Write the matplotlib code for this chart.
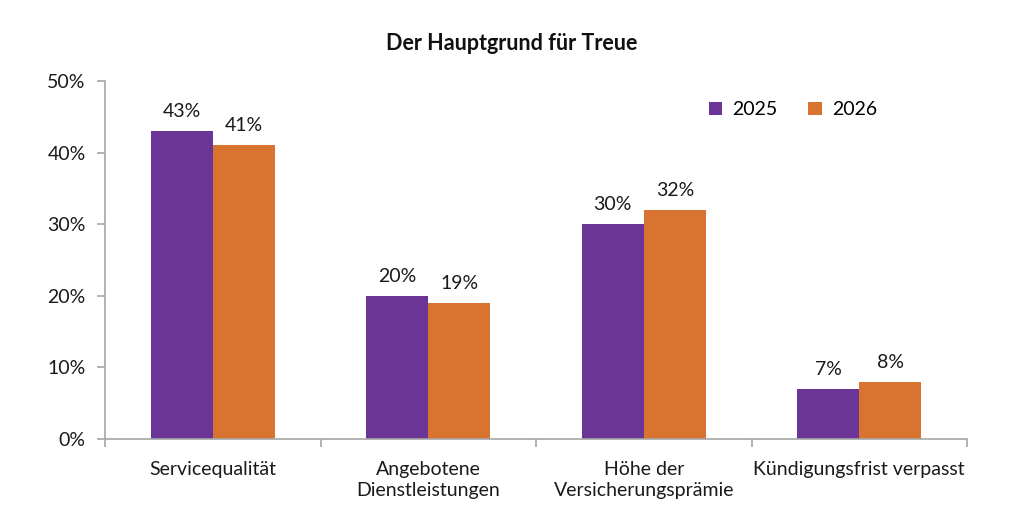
import matplotlib
matplotlib.use("Agg")
import matplotlib.pyplot as plt
import numpy as np

categories = ["Servicequalität", "Angebotene\nDienstleistungen", "Höhe der\nVersicherungsprämie", "Kündigungsfrist verpasst"]
series_names = ["2025", "2026"]
values_2025 = [43, 20, 30, 7]
values_2026 = [41, 19, 32, 8]
yticks = [0, 10, 20, 30, 40, 50]
ytick_labels = ["0%", "10%", "20%", "30%", "40%", "50%"]
title = "Der Hauptgrund für Treue"

colors = ["#6A3597", "#D87330"]
plt.rcParams['font.family'] = ['Lato', 'DejaVu Sans']

fig = plt.figure(figsize=(10.24, 5.26), dpi=100)
ax = fig.add_axes([105/1024, 1-439/526, (967-105)/1024, (439-81)/526])

x = np.arange(len(categories))
w = 0.288
b1 = ax.bar(x - w/2, values_2025, w, color=colors[0], label=series_names[0])
b2 = ax.bar(x + w/2, values_2026, w, color=colors[1], label=series_names[1])
for bars, vals in ((b1, values_2025), (b2, values_2026)):
    for r, v in zip(bars, vals):
        ax.annotate(f"{v}%", (r.get_x() + r.get_width()/2, v), xytext=(0, 8),
                    textcoords="offset points", ha="center", va="bottom", fontsize=14, color="#1a1a1a")

ax.set_xlim(-0.5, len(categories) - 0.5)
ax.set_ylim(0, 50)
ax.set_yticks(yticks)
ax.set_yticklabels(ytick_labels, fontsize=14, color="#1a1a1a")
ax.set_xticks(x)
ax.set_xticklabels(categories, fontsize=14, color="#1a1a1a", linespacing=1.3, va="top")
ax.set_xticks(np.arange(-0.5, len(categories)), minor=True)
ax.tick_params(axis="x", which="major", length=0, pad=16)
ax.tick_params(axis="x", which="minor", length=6, color="#A6A6A6", width=1.2)
ax.tick_params(axis="y", length=6, color="#A6A6A6", width=1.2, pad=8)
for s in ("top", "right"):
    ax.spines[s].set_visible(False)
for s in ("left", "bottom"):
    ax.spines[s].set_color("#A6A6A6")
    ax.spines[s].set_linewidth(1.2)

fig.text(0.5, 1 - 44/526, title, ha="center", va="center", fontsize=15.5, fontweight="bold", color="#111111")
ax.legend(loc="center left", bbox_to_anchor=(0.68, 0.92), ncol=2, frameon=False, fontsize=14,
          handlelength=0.7, handleheight=0.7, columnspacing=1.6, handletextpad=0.5)

fig.savefig("out.png", dpi=100, facecolor="white")
